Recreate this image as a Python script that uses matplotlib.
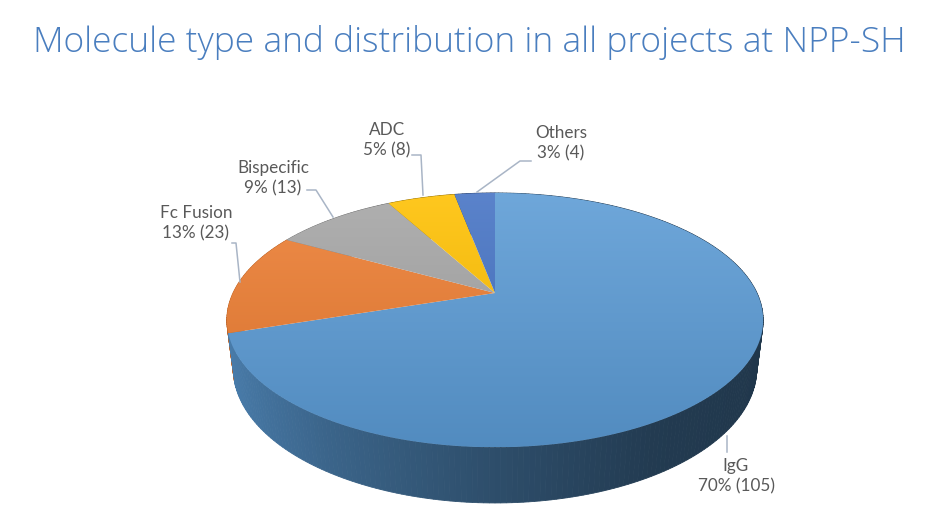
import numpy as np
import matplotlib.pyplot as plt
from matplotlib.patches import Polygon
from matplotlib.colors import to_rgb

# data
labels = ['IgG', 'Fc Fusion', 'Bispecific', 'ADC', 'Others']
percents = [70, 13, 9, 5, 3]
counts = [105, 23, 13, 8, 4]
colors = ['#5B9BD5', '#ED7D31', '#A5A5A5', '#FFC000', '#4472C4']

# label placement (pixel coords of text centre) and leader lines
label_pos = [(736, 476), (196, 223), (273, 178), (387, 140), (561, 143)]
leaders = [
    [(727, 452), (727, 436)],
    [(232, 243), (236, 243), (240, 282)],
    [(307, 190), (316, 190), (333, 217)],
    [(412, 155), (421, 155), (423, 195)],
    [(531, 161), (520, 161), (477, 192)],
]

# view of the 3d pie
cx, cy = 495, 293
R = 262
phi = np.radians(27.6)
dist = 4.16
depth = 0.21


def project(x, y, z):
    s, c = np.sin(phi), np.cos(phi)
    yv = y * s + z * c
    d = y * c - z * s
    k = dist / (dist + d)
    return cx + R * x * k, cy - R * yv * k


def shade(col, f):
    return tuple(np.clip(np.array(to_rgb(col)) * f, 0, 1))


def wall_factor(xn):
    return np.interp(xn, [-1, -0.5, 0, 0.5, 1], [0.82, 0.64, 0.5, 0.38, 0.35])


fig = plt.figure(figsize=(9.39, 5.26), dpi=100)
ax = fig.add_axes([0, 0, 1, 1])
ax.axis('off')

bounds = np.concatenate([[0], np.cumsum(percents)]) * 3.6

# side wall, drawn in thin segments from back to front
segs = []
for i in range(len(percents)):
    a0, a1 = bounds[i], bounds[i + 1]
    th = np.linspace(a0, a1, max(int(a1 - a0), 2) + 1)
    for t0, t1 in zip(th[:-1], th[1:]):
        r0, r1 = np.radians(t0), np.radians(t1)
        xs = [np.sin(r0), np.sin(r1), np.sin(r1), np.sin(r0)]
        ys = [np.cos(r0), np.cos(r1), np.cos(r1), np.cos(r0)]
        zs = [0, 0, -depth, -depth]
        pts = [project(x, y, z) for x, y, z in zip(xs, ys, zs)]
        dmean = (np.cos(r0) + np.cos(r1)) / 2
        xn = (np.sin(r0) + np.sin(r1)) / 2
        segs.append((dmean, pts, shade(colors[i], wall_factor(xn))))

for dmean, pts, col in sorted(segs, key=lambda s: -s[0]):
    ax.add_patch(Polygon(pts, closed=True, facecolor=col, edgecolor=col, lw=0.6))

# top faces with vertical gradient
ytop, ybot = project(0, 1, 0)[1], project(0, -1, 0)[1]
for i in range(len(percents)):
    a0, a1 = bounds[i], bounds[i + 1]
    th = np.radians(np.linspace(a0, a1, 200))
    pts = [project(0, 0, 0)] + [project(np.sin(t), np.cos(t), 0) for t in th]
    poly = Polygon(pts, closed=True, facecolor='none', edgecolor='none')
    ax.add_patch(poly)
    base = np.array(to_rgb(colors[i]))
    g = np.linspace(0, 1, 256)[:, None]
    light = base + (1 - base) * 0.12
    dark = base * 0.9
    img = (light[None, :] * (1 - g) + dark[None, :] * g)[:, None, :]
    im = ax.imshow(img, extent=(200, 790, ybot, ytop), origin='upper',
                   aspect='auto', interpolation='bilinear', zorder=3)
    im.set_clip_path(poly)

# labels
for i in range(len(labels)):
    x, y = label_pos[i]
    ax.text(x, y, f"{labels[i]}\n{percents[i]}% ({counts[i]})", ha='center',
            va='center', fontsize=12.3, color='#595959', family='Lato',
            linespacing=1.35, zorder=5)
    lx, ly = zip(*leaders[i])
    ax.plot(lx, ly, color='#A9B5C6', lw=1.1, zorder=6)

fig.text(0.5, 1 - 42 / 526, 'Molecule type and distribution in all projects at NPP-SH',
         ha='center', va='center', fontsize=25.5, color='#4A7EBF',
         family='Open Sans', fontweight='light')

ax.set_xlim(0, 939)
ax.set_ylim(526, 0)
fig.savefig('out.png', dpi=100)
